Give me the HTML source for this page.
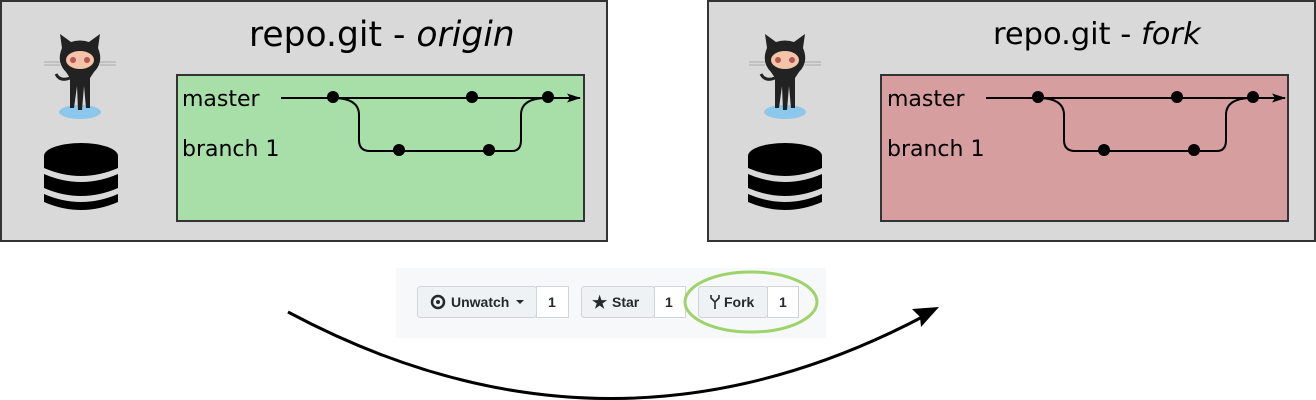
<!DOCTYPE html>
<html><head><style>body{margin:0;background:#fff}svg{display:block}</style></head><body>
<svg width="1316" height="400" viewBox="0 0 1316 400" xmlns="http://www.w3.org/2000/svg" font-family="DejaVu Sans, Liberation Sans, sans-serif">
<defs>
<g id="cat">
<ellipse cx="0" cy="40" rx="21" ry="7" fill="#8cc8ec"/>
<path d="M-18 -24 L-20 -38 L-9 -30 Q0 -33 9 -30 L20 -38 L18 -24 Q24 -10 14 0 L10 6 L10 36 L6 36 L4 14 L2 38 L-2 38 L-3 14 L-6 36 L-10 36 L-10 6 L-14 0 Q-24 -10 -18 -24Z" fill="#222"/>
<path d="M-10 6 Q-20 10 -24 2" stroke="#222" stroke-width="3" fill="none"/>
<ellipse cx="0" cy="-12" rx="14" ry="9" fill="#f2c5a8"/>
<circle cx="-7" cy="-12" r="3" fill="#b55"/><circle cx="7" cy="-12" r="3" fill="#b55"/>
<path d="M-36 -10 H-20 M-36 -7 H-20 M20 -10 H36 M20 -7 H36" stroke="#999" stroke-width="0.8"/>
</g>
<g id="db">
<ellipse cx="0" cy="-22" rx="37" ry="13" fill="#000"/>
<path d="M-37 -22 V-10 Q0 6 37 -10 V-22Z" fill="#000"/>
<path d="M-37 -4 Q0 12 37 -4 V10 Q0 26 -37 10Z" fill="#000"/>
<path d="M-37 16 Q0 32 37 16 V24 Q0 40 -37 24Z" fill="#000"/>
</g>
<marker id="ah" markerWidth="14" markerHeight="9" refX="13" refY="4.5" orient="auto" markerUnits="userSpaceOnUse"><path d="M0 0 L14 4.5 L0 9 L3 4.5Z" fill="#000"/></marker>
<g id="graph">
<path d="M281 98 H580" stroke="#000" stroke-width="2" fill="none" marker-end="url(#ah)"/>
<path d="M333 98 Q359 98 359 115 V140 Q359 151 370 151 H512 Q521 151 521 140 V115 Q521 98 547 98" stroke="#000" stroke-width="2" fill="none"/>
<circle cx="333" cy="97" r="6"/><circle cx="472" cy="97" r="6"/><circle cx="548" cy="97" r="6"/>
<circle cx="399" cy="150" r="6"/><circle cx="489" cy="150" r="6"/>
<text x="182" y="106" font-size="22">master</text>
<text x="182" y="156" font-size="22">branch 1</text>
</g>
</defs>
<rect x="1" y="1" width="606" height="240" fill="#d9d9d9" stroke="#333" stroke-width="2"/>
<rect x="177" y="75" width="407" height="146" fill="#a8dfa8" stroke="#333" stroke-width="2"/>
<text x="249" y="46" font-size="34.5">repo.git - <tspan font-style="italic">origin</tspan></text>
<use href="#cat" transform="translate(80,72)"/>
<use href="#db" transform="translate(81,178)"/>
<use href="#graph"/>

<rect x="708" y="1" width="607" height="240" fill="#d9d9d9" stroke="#333" stroke-width="2"/>
<rect x="881" y="75" width="407" height="146" fill="#d69e9e" stroke="#333" stroke-width="2"/>
<text x="993" y="44" font-size="30.5">repo.git - <tspan font-style="italic">fork</tspan></text>
<use href="#cat" transform="translate(785,72)"/>
<use href="#db" transform="translate(785,178)"/>
<use href="#graph" transform="translate(705,0)"/>

<rect x="396" y="268" width="430" height="70" fill="#f7f8f9"/>
<g font-size="14" font-weight="bold" fill="#24292e" font-family="Liberation Sans, sans-serif">
<rect x="417.5" y="286.5" width="119" height="31" rx="3" fill="#eff2f5" stroke="#d1d5da"/>
<rect x="536.5" y="286.5" width="32" height="31" fill="#fff" stroke="#d1d5da"/>
<circle cx="438" cy="302" r="6" fill="none" stroke="#24292e" stroke-width="2.5"/><circle cx="438" cy="302" r="2" fill="#24292e"/>
<text x="451" y="307">Unwatch</text><path d="M516 300 h8 l-4 4z"/>
<text x="548" y="307">1</text>
<rect x="581.5" y="286.5" width="73" height="31" rx="3" fill="#eff2f5" stroke="#d1d5da"/>
<rect x="654.5" y="286.5" width="31" height="31" fill="#fff" stroke="#d1d5da"/>
<text x="592" y="308" font-size="17">★</text><text x="612" y="307">Star</text>
<text x="665" y="307">1</text>
<rect x="698.5" y="286.5" width="69" height="31" rx="3" fill="#eff2f5" stroke="#d1d5da"/>
<rect x="767.5" y="286.5" width="31" height="31" fill="#fff" stroke="#d1d5da"/>
<path d="M711 295 v3 l4 4 l4 -4 v-3 M715 302 v7" stroke="#24292e" stroke-width="1.6" fill="none"/>
<text x="724" y="307">Fork</text>
<text x="779" y="307">1</text>
</g>
<ellipse cx="751" cy="302" rx="66" ry="30" fill="none" stroke="#9ed36a" stroke-width="3"/>
<path d="M288 312 Q610 484 928 314" stroke="#000" stroke-width="3" fill="none"/>
<path d="M939 307 L912 309 L920 317 L921 327Z" fill="#000"/>
</svg>
</body></html>
